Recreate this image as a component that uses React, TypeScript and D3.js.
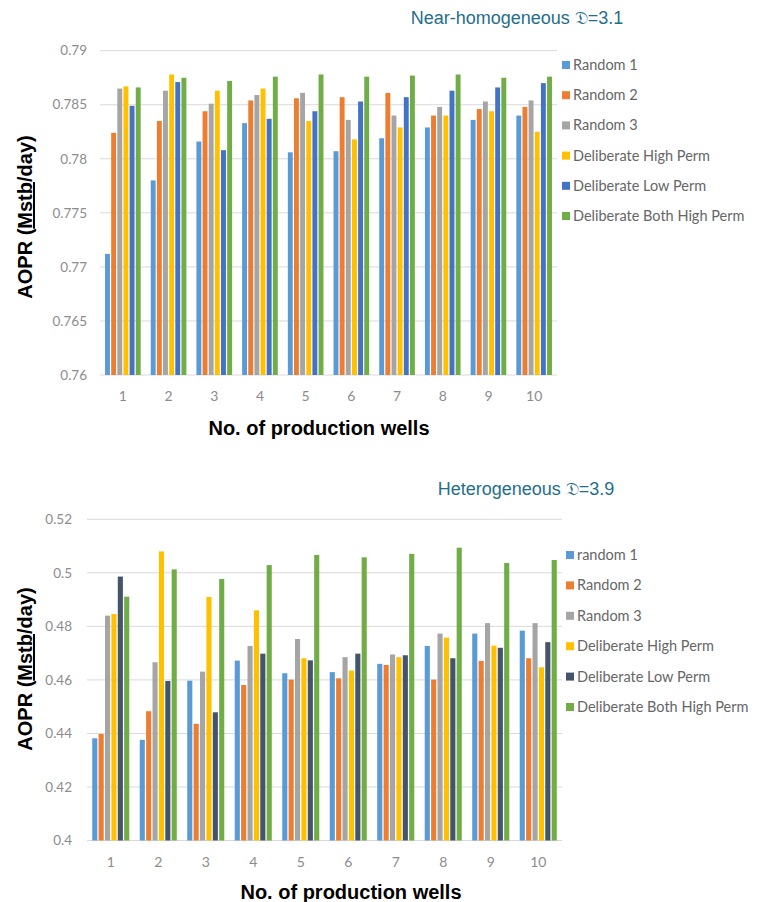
import React from "react";
import * as d3 from "d3";

const categories = ["1", "2", "3", "4", "5", "6", "7", "8", "9", "10"];

const topSeriesNames = ["Random 1", "Random 2", "Random 3", "Deliberate High Perm", "Deliberate Low Perm", "Deliberate Both High Perm"];
const topRandom1 = [0.7712, 0.7780, 0.7816, 0.7833, 0.7806, 0.7807, 0.7819, 0.7829, 0.7836, 0.7840];
const topRandom2 = [0.7824, 0.7835, 0.7844, 0.7854, 0.7856, 0.7857, 0.7861, 0.7840, 0.7846, 0.7848];
const topRandom3 = [0.7865, 0.7863, 0.7851, 0.7859, 0.7861, 0.7836, 0.7840, 0.7848, 0.7853, 0.7854];
const topHigh = [0.7867, 0.7878, 0.7863, 0.7865, 0.7835, 0.7818, 0.7829, 0.7840, 0.7844, 0.7825];
const topLow = [0.7849, 0.7871, 0.7808, 0.7837, 0.7844, 0.7853, 0.7857, 0.7863, 0.7866, 0.7870];
const topBoth = [0.7866, 0.7875, 0.7872, 0.7876, 0.7878, 0.7876, 0.7877, 0.7878, 0.7875, 0.7876];
const topTicks = [0.76, 0.765, 0.77, 0.775, 0.78, 0.785, 0.79];
const topTickLabels = ["0.76", "0.765", "0.77", "0.775", "0.78", "0.785", "0.79"];

const botSeriesNames = ["random 1", "Random 2", "Random 3", "Deliberate High Perm", "Deliberate Low Perm", "Deliberate Both High Perm"];
const botRandom1 = [0.4382, 0.4376, 0.4597, 0.4672, 0.4625, 0.4629, 0.4660, 0.4727, 0.4773, 0.4784];
const botRandom2 = [0.4398, 0.4483, 0.4436, 0.4581, 0.4601, 0.4606, 0.4656, 0.4601, 0.4671, 0.4681];
const botRandom3 = [0.4840, 0.4666, 0.4631, 0.4727, 0.4753, 0.4685, 0.4695, 0.4773, 0.4812, 0.4812];
const botHigh = [0.4846, 0.5080, 0.4910, 0.4860, 0.4681, 0.4635, 0.4685, 0.4758, 0.4728, 0.4647];
const botLow = [0.4986, 0.4596, 0.4479, 0.4698, 0.4673, 0.4698, 0.4692, 0.4681, 0.4720, 0.4741];
const botBoth = [0.4911, 0.5013, 0.4977, 0.5029, 0.5067, 0.5058, 0.5071, 0.5094, 0.5037, 0.5048];
const botTicks = [0.4, 0.42, 0.44, 0.46, 0.48, 0.5, 0.52];
const botTickLabels = ["0.4", "0.42", "0.44", "0.46", "0.48", "0.5", "0.52"];

const topColors = ["#5B9BD5", "#ED7D31", "#A5A5A5", "#FFC000", "#4472C4", "#70AD47"];
const botColors = ["#5B9BD5", "#ED7D31", "#A5A5A5", "#FFC000", "#44546A", "#70AD47"];

type PanelProps = {
  series: number[][];
  names: string[];
  colors: string[];
  ticks: number[];
  tickLabels: string[];
  domain: [number, number];
  left: number;
  right: number;
  top: number;
  bottom: number;
  tickRight: number;
  title: string;
  titleX: number;
  titleY: number;
  yTitleX: number;
  yTitleY: number;
  xLabelY: number;
  xTitleX: number;
  xTitleY: number;
  legendSqX: number;
  legendY0: number;
  legendStep: number;
};

function Panel(p: PanelProps) {
  const x0 = d3.scaleBand<string>().domain(categories).range([p.left, p.right]).paddingInner(0.22).paddingOuter(0.11);
  const x1 = d3.scaleBand<number>().domain(d3.range(p.series.length)).range([0, x0.bandwidth()]).paddingInner(0.2);
  const y = d3.scaleLinear().domain(p.domain).range([p.bottom, p.top]);
  const tickFont = "Lato, 'Open Sans', sans-serif";
  return (
    <g>
      {p.ticks.map((t, i) => (
        <g key={"t" + i}>
          <line x1={p.left} x2={p.right} y1={y(t)} y2={y(t)} stroke="#d9d9d9" strokeWidth={1} />
          <text x={p.tickRight} y={y(t)} dy="0.35em" textAnchor="end" fontSize={13.5} fill="#8c8c8c" fontFamily={tickFont}>
            {p.tickLabels[i]}
          </text>
        </g>
      ))}
      {p.series.map((s, si) => (
        <g key={"s" + si} fill={p.colors[si]}>
          {s.map((v, ci) => (
            <rect key={ci} x={(x0(categories[ci]) as number) + (x1(si) as number)} width={x1.bandwidth()} y={y(v)} height={p.bottom - y(v)} />
          ))}
        </g>
      ))}
      {categories.map((c) => (
        <text key={"c" + c} x={(x0(c) as number) + x0.bandwidth() / 2} y={p.xLabelY} dy="0.35em" textAnchor="middle" fontSize={14} fill="#8c8c8c" fontFamily={tickFont}>
          {c}
        </text>
      ))}
      <text x={p.titleX} y={p.titleY} textAnchor="middle" fontSize={18} fill="#1f6e8c" fontFamily="'Liberation Sans', Arial, sans-serif">
        {p.title}
      </text>
      <text transform={`translate(${p.yTitleX},${p.yTitleY}) rotate(-90)`} textAnchor="middle" dy="0.35em" fontSize={20} fontWeight="bold" fill="#000" fontFamily="'Liberation Sans', Arial, sans-serif">
        AOPR (<tspan textDecoration="underline">Mstb</tspan>/day)
      </text>
      <text x={p.xTitleX} y={p.xTitleY} textAnchor="middle" dy="0.35em" fontSize={20} fontWeight="bold" fill="#000" fontFamily="'Liberation Sans', Arial, sans-serif">
        No. of production wells
      </text>
      {p.names.map((n, i) => (
        <g key={"l" + i}>
          <rect x={p.legendSqX} y={p.legendY0 + i * p.legendStep - 4} width={8} height={8} fill={p.colors[i]} />
          <text x={p.legendSqX + 11} y={p.legendY0 + i * p.legendStep} dy="0.35em" fontSize={14.5} fill="#666" fontFamily={tickFont}>
            {n}
          </text>
        </g>
      ))}
    </g>
  );
}

export default function App() {
  return (
    <svg width={758} height={902} style={{ display: "block", position: "absolute", left: 0, top: 0, background: "#fff" }}>
      <Panel
        series={[topRandom1, topRandom2, topRandom3, topHigh, topLow, topBoth]}
        names={topSeriesNames}
        colors={topColors}
        ticks={topTicks}
        tickLabels={topTickLabels}
        domain={[0.76, 0.79]}
        left={100}
        right={557}
        top={50.7}
        bottom={375}
        tickRight={87}
        title="Near-homogeneous 𝔇=3.1"
        titleX={517}
        titleY={24}
        yTitleX={25}
        yTitleY={217}
        xLabelY={396}
        xTitleX={319}
        xTitleY={428}
        legendSqX={562}
        legendY0={65}
        legendStep={30.2}
      />
      <Panel
        series={[botRandom1, botRandom2, botRandom3, botHigh, botLow, botBoth]}
        names={botSeriesNames}
        colors={botColors}
        ticks={botTicks}
        tickLabels={botTickLabels}
        domain={[0.4, 0.52]}
        left={87}
        right={562}
        top={519.3}
        bottom={840.5}
        tickRight={72}
        title="Heterogeneous 𝔇=3.9"
        titleX={526}
        titleY={495}
        yTitleX={25}
        yTitleY={669}
        xLabelY={862}
        xTitleX={351}
        xTitleY={892}
        legendSqX={566}
        legendY0={555}
        legendStep={30.4}
      />
    </svg>
  );
}
